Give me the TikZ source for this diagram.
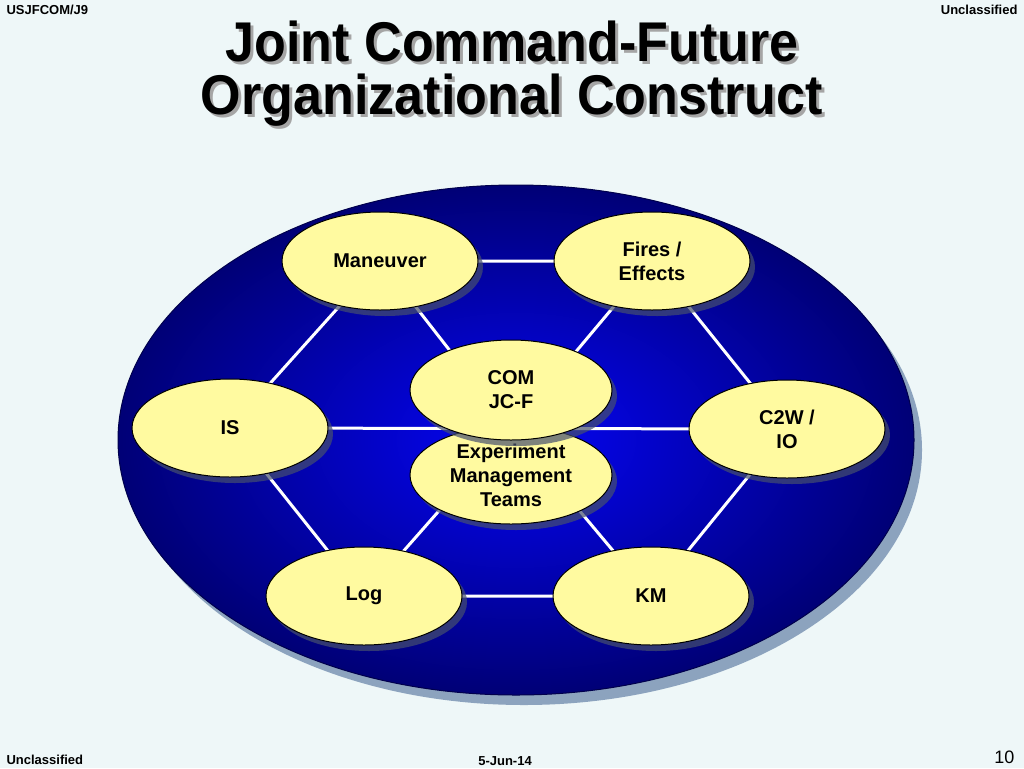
\documentclass[tikz,border=0pt]{standalone}
\usepackage{fontspec}
\setmainfont{Liberation Sans}
\newfontfamily\ttlfont[FakeStretch=0.93]{Liberation Sans}
\usetikzlibrary{shapes.geometric,shadows,positioning}

\pgfdeclarelayer{back}
\pgfdeclarelayer{links}
\pgfsetlayers{back,links,main}

\definecolor{slidebg}{RGB}{238,247,248}
\definecolor{padyellow}{RGB}{255,250,160}
\definecolor{padshadow}{RGB}{70,80,110}
\definecolor{rimblue}{RGB}{0,0,118}
\definecolor{coreblue}{RGB}{5,5,245}
\definecolor{platter}{RGB}{140,163,190}
\definecolor{ttlgray}{RGB}{165,165,165}

\tikzset{
  pad/.style={ellipse, draw=black, line width=1pt, fill=padyellow,
    minimum width=196pt, minimum height=98pt, inner xsep=0pt, inner ysep=-12pt,
    align=center, font=\fontsize{20}{24}\selectfont\bfseries,
    drop shadow={shadow xshift=5pt, shadow yshift=-6pt, fill=padshadow, opacity=0.7}},
  link/.style={white, line width=3pt},
  corner/.style={font=\fontsize{13}{15}\selectfont\bfseries},
  title/.style={align=center, font=\fontsize{56}{53}\selectfont\ttlfont\bfseries},
}

\begin{document}
\begin{tikzpicture}[x=1pt, y=-1pt]

  % The slide and the blue platter
  \begin{pgfonlayer}{back}
    \fill[slidebg] (0,0) rectangle (1024,768);
    \fill[platter] (524,450) ellipse [x radius=398pt, y radius=255pt];
    \shadedraw[inner color=coreblue, outer color=rimblue, draw=black!70!blue, line width=1pt]
      (516,440) ellipse [x radius=398pt, y radius=255pt];
  \end{pgfonlayer}

  % Header and footer
  \node[corner, anchor=west] (org) at (3,10) {USJFCOM/J9};
  \node[corner, anchor=east] (clsTop) at (1021,10) {Unclassified};
  \node[corner, anchor=west] (clsBot) at (3,760) {Unclassified};
  \node[corner] (date) at (505,761) {5-Jun-14};
  \node[font=\fontsize{18}{20}\selectfont, anchor=east] (page) at (1018,757) {10};

  % Title with its shadow
  \def \ttl {Joint Command-Future\\Organizational Construct}
  \node[title, ttlgray] (ttlShadow) at (515,77) {\ttl};
  \node[title] (ttl) at (512,74) {\ttl};

  % Outer ring
  \node[pad] (man)  at (380,261) {Maneuver};
  \node[pad] (fire) at (652,261) {Fires /\\Effects};
  \node[pad] (is)   at (230,428) {IS};
  \node[pad] (c2w)  at (787,429) {C2W /\\IO};
  \node[pad] (log)  at (364,596) {Log};
  \node[pad] (km)   at (651,596) {KM};

  % Centre pair
  \node[pad, minimum width=202pt] (emt) at (511,475) {Experiment\\Management\\Teams};
  \node[pad, minimum width=202pt, minimum height=100pt] (com) at (511,390) {COM\\JC-F};
  \coordinate (hub) at (511,429);

  % LINES
  \begin{pgfonlayer}{links}
    \draw[link] (man.center) -- (fire.center) -- (c2w.center) -- (km.center)
      -- (log.center) -- (is.center) -- cycle;
    \draw[link] (is.center) -- (c2w.center);
    \foreach \p in {man,fire,log,km}
      \draw[link] (\p.center) -- (hub);
  \end{pgfonlayer}

\end{tikzpicture}
\end{document}
